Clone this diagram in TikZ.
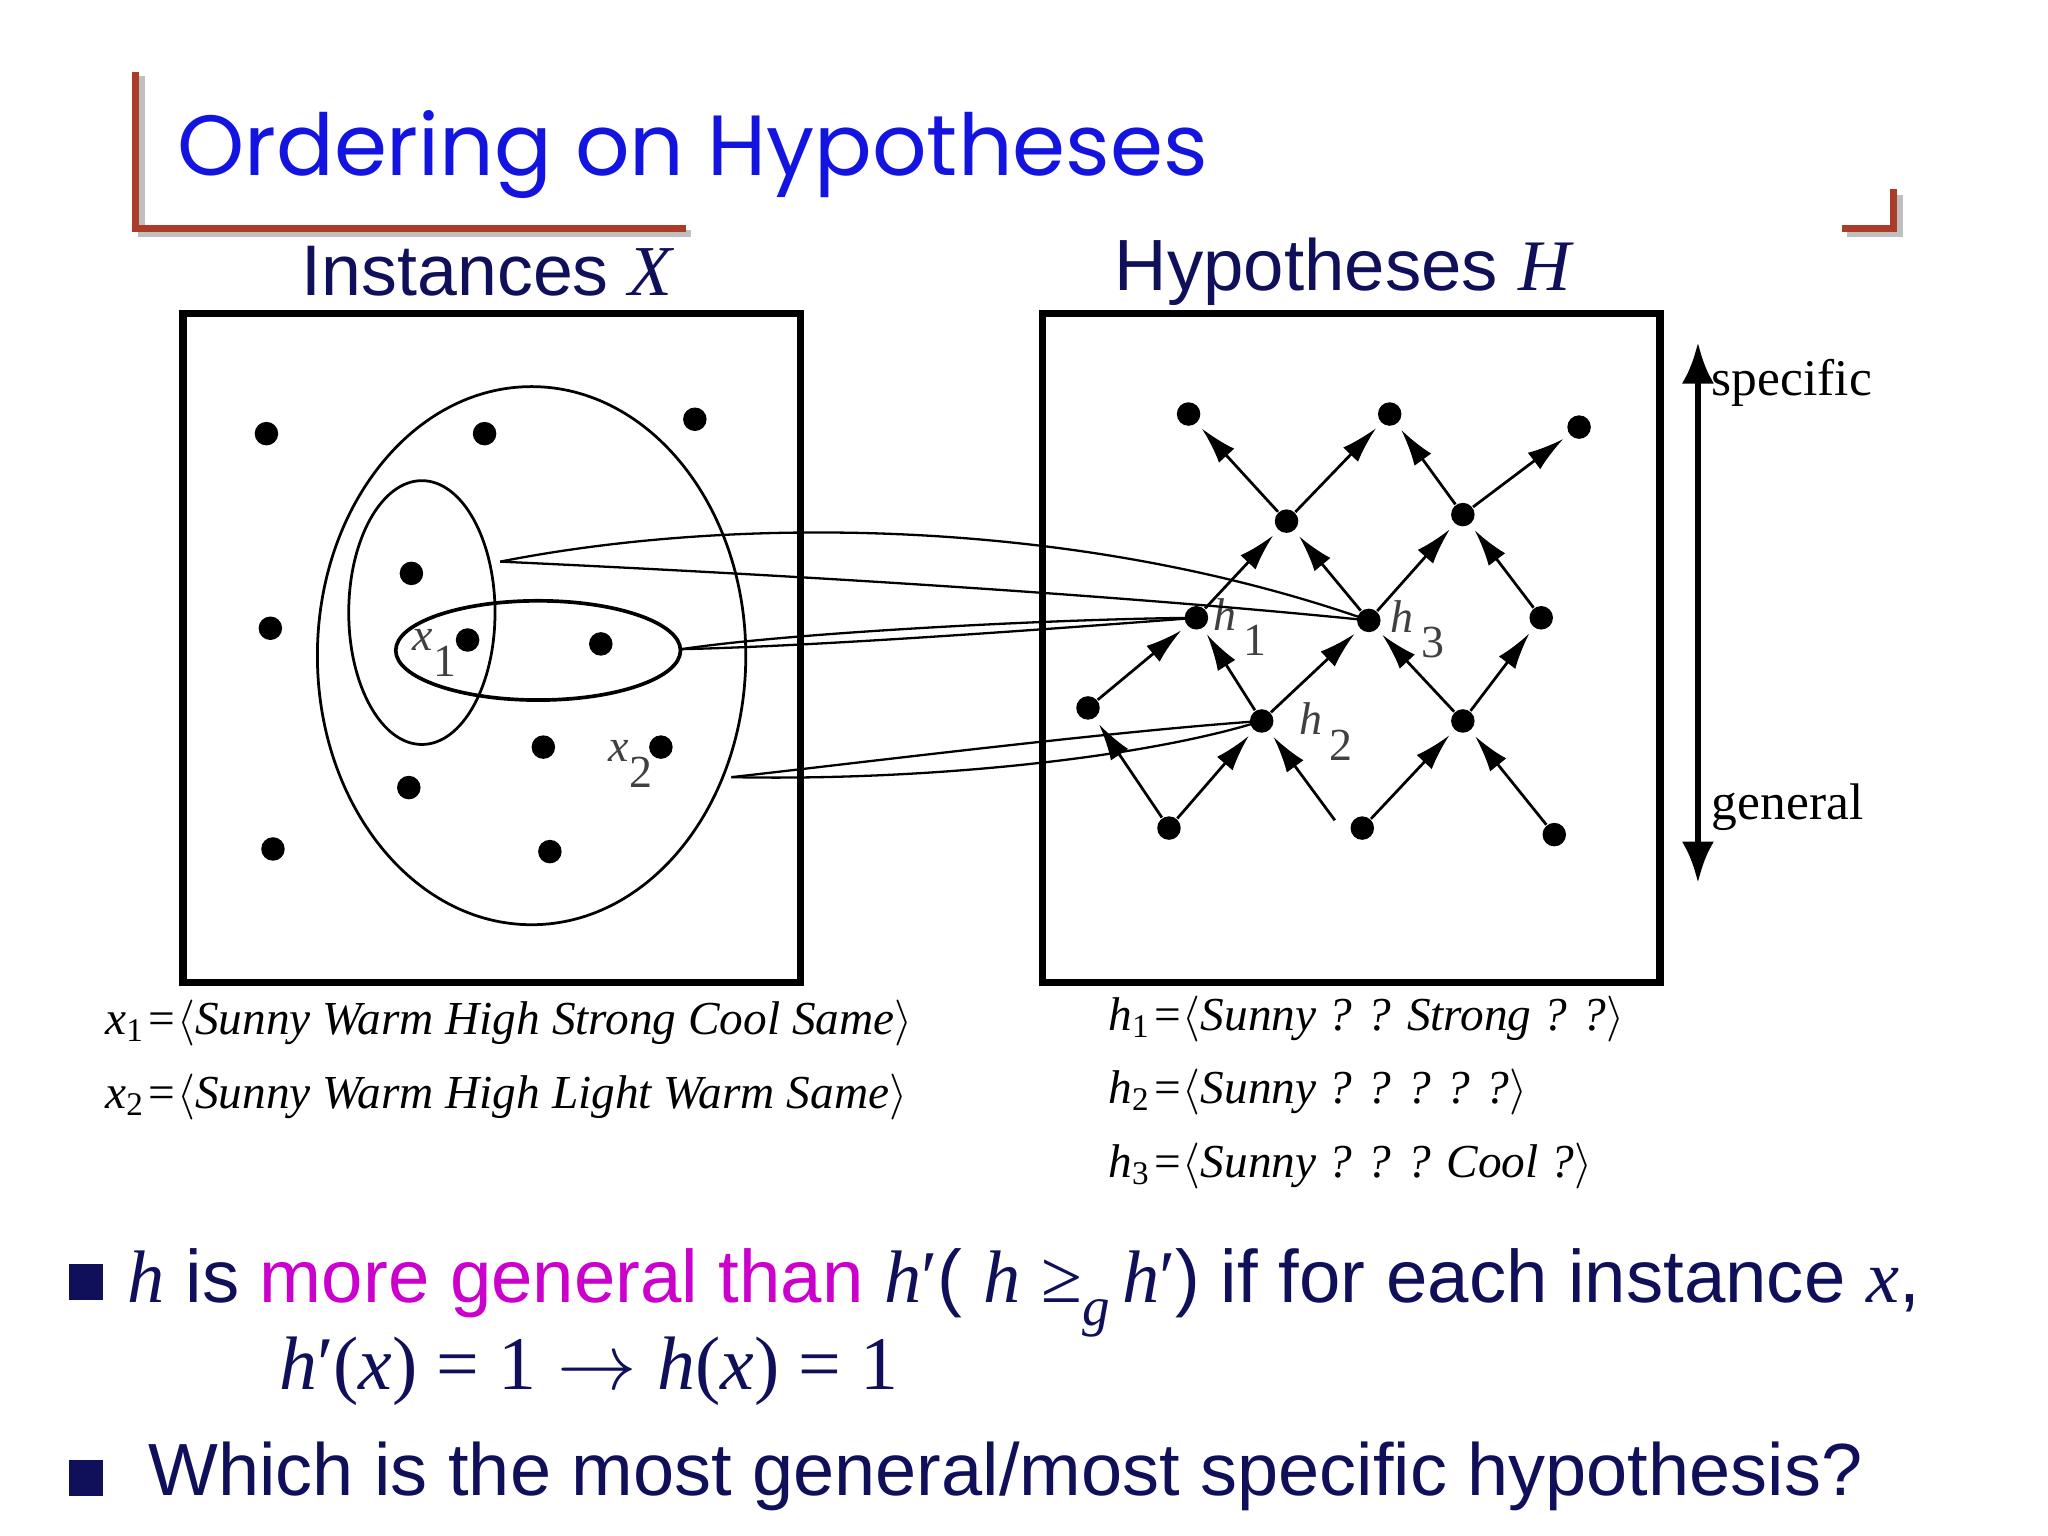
\documentclass[tikz,border=0pt]{standalone}
\usepackage{fontspec}
\setmainfont{Liberation Sans}
\newfontfamily\tserif{Liberation Serif}
\newfontfamily\titlefont{Poppins}
\newcommand{\mi}[1]{{\tserif\itshape #1}}
\newcommand{\mr}[1]{{\tserif #1}}
\usetikzlibrary{arrows.meta}
\definecolor{titleblue}{RGB}{20,20,225}
\definecolor{navy}{RGB}{16,16,90}
\definecolor{magent}{RGB}{204,0,204}
\definecolor{rust}{RGB}{170,60,40}
\begin{document}
\begin{tikzpicture}[x=0.01cm,y=-0.01cm,
  dot/.style={circle,fill=black,inner sep=0pt,minimum size=0.18cm},
  edge/.style={line width=0.6pt,-{Latex[length=8pt,width=4.5pt]},shorten >=1.5pt},
  wedge/.style={line width=0.5pt},
  hyp/.style={anchor=west,font=\tserif\itshape\fontsize{10.3}{12}\selectfont,inner sep=0pt},
  lab/.style={font=\tserif\itshape\fontsize{10}{11}\selectfont,text=black!75,inner sep=0pt}]
\useasboundingbox (0,0) rectangle (1568,1176);
% title decorations
\draw[gray!50,line width=1.5pt] (108,58) -- (108,179) -- (529,179);
\draw[rust,line width=1.5pt] (104,55) -- (104,175) -- (525,175);
\draw[gray!50,line width=1.5pt] (1454,149) -- (1454,179) -- (1414,179);
\draw[rust,line width=1.5pt] (1450,145) -- (1450,175) -- (1410,175);
\node[anchor=west,text=titleblue,font=\titlefont\fontsize{18.6}{22}\selectfont,inner sep=0pt] (title) at (135,118) {Ordering on Hypotheses};
\node[text=navy,font=\fontsize{15.6}{18}\selectfont,inner sep=0pt] (tinst) at (373,208) {Instances \mi{X}};
\node[text=navy,font=\fontsize{15.8}{18}\selectfont,inner sep=0pt] (thyp) at (1028,208) {Hypotheses \mi{H}};
% boxes
\draw[line width=1.6pt] (140,240) rectangle (613,752);
\draw[line width=1.6pt] (798,240) rectangle (1271,752);
% ellipses
\draw[line width=0.6pt] (407,502) ellipse [x radius=164,y radius=206];
\draw[line width=0.6pt] (323,469) ellipse [x radius=56,y radius=101];
\draw[line width=0.8pt] (412,498) ellipse [x radius=109,y radius=38];
% instance dots
\foreach \n/\x/\y in {a/204/332,b/371/332,c/532/321,d/315/439,e/207/481,x1/358/490,f/460/493,g/416/572,x2/506/572,h/313/603,i/209/650,j/421/652}
  \node[dot] (i\n) at (\x,\y) {};
\node[lab,anchor=east] (lx1) at (350,500) {x\raisebox{-1.2ex}{\upshape 1}};
\node[lab,anchor=east] (lx2) at (500,585) {x\raisebox{-1.2ex}{\upshape 2}};
% lattice
\foreach \n/\x/\y in {t1/910/317,t2/1064/317,t3/1209/327,s1/985/399,s2/1120/394,h1/916/473,h3/1048/475,m3/1180/473,q1/833/542,h2/966/552,q3/1120/552,b1/895/634,b2/1043/634,b3/1190/639}
  \node[dot] (\n) at (\x,\y) {};
\coordinate (b2s) at (1022,628);
\foreach \a/\b in {b1/q1,b1/h2,b2/q3,b3/q3,q1/h1,h2/h1,h2/h3,q3/h3,q3/m3,h1/s1,h3/s1,h3/s2,m3/s2,s1/t1,s1/t2,s2/t2,s2/t3}
  \draw[edge] (\a) -- (\b);
\draw[edge] (b2s) -- (h2);
\node[lab,anchor=west] (lh1) at (928,480) {h\raisebox{-1.2ex}{\upshape\,1}};
\node[lab,anchor=west] (lh3) at (1064,482) {h\raisebox{-1.2ex}{\upshape\,3}};
\node[lab,anchor=west] (lh2) at (994,560) {h\raisebox{-1.2ex}{\upshape\,2}};
% wedges
\coordinate (w1) at (383,430);
\coordinate (w2) at (522,497);
\coordinate (w3) at (560,595);
\draw[wedge] (w1) .. controls (560,395) and (820,395) .. (h3.center);
\draw[wedge] (w1) .. controls (600,440) and (850,455) .. (h3.center);
\draw[wedge] (w2) .. controls (600,485) and (800,474) .. (h1.center);
\draw[wedge] (w2) .. controls (620,495) and (800,482) .. (h1.center);
\draw[wedge] (w3) .. controls (650,585) and (850,560) .. (h2.center);
\draw[wedge] (w3) .. controls (700,598) and (870,582) .. (h2.center);
% specific/general arrow
\coordinate (sp) at (1300,262);
\coordinate (ge) at (1300,676);
\draw[line width=1.5pt,{Latex[length=9pt,width=7pt]}-{Latex[length=9pt,width=7pt]}] (sp) -- (ge);
\node[anchor=west,font=\tserif\fontsize{11.2}{13}\selectfont,inner sep=0pt] (lsp) at (1310,293) {specific};
\node[anchor=west,font=\tserif\fontsize{11.2}{13}\selectfont,inner sep=0pt] (lge) at (1310,618) {general};
% descriptions
\node[hyp] (dx1) at (80,783) {x\textsubscript{\upshape 1}=$\langle$Sunny Warm High Strong Cool Same$\rangle$};
\node[hyp] (dx2) at (80,840) {x\textsubscript{\upshape 2}=$\langle$Sunny Warm High Light Warm Same$\rangle$};
\node[hyp] (dh1) at (848,780) {h\textsubscript{\upshape 1}=$\langle$Sunny ? ? Strong ? ?$\rangle$};
\node[hyp] (dh2) at (848,836) {h\textsubscript{\upshape 2}=$\langle$Sunny ? ? ? ? ?$\rangle$};
\node[hyp] (dh3) at (848,893) {h\textsubscript{\upshape 3}=$\langle$Sunny ? ? ? Cool ?$\rangle$};
% bullets
\fill[navy] (53,968) rectangle (79,995);
\fill[navy] (53,1118) rectangle (79,1145);
\node[anchor=base west,text=navy,font=\fontsize{16.2}{20}\selectfont,inner sep=0pt] (bul1) at (97,997)
  {\mi{h} is \textcolor{magent}{more general than} \mi{h}\mr{′}( \mi{h} \mr{≥}\raisebox{-0.6ex}{\mi{\fontsize{12}{12}\selectfont g}}\,\mi{h}\mr{′}) if for each instance \mi{x},};
\node[anchor=base west,text=navy,font=\fontsize{16.5}{20}\selectfont,inner sep=0pt] (bul1b) at (213,1064)
  {\mi{h}\mr{′(}\mi{x}\mr{) = 1} $\rightarrow$ \mi{h}\mr{(}\mi{x}\mr{) = 1}};
\node[anchor=base west,text=navy,font=\fontsize{16.1}{20}\selectfont,inner sep=0pt] (bul2) at (113,1145)
  {Which is the most general/most specific hypothesis?};
\end{tikzpicture}
\end{document}
